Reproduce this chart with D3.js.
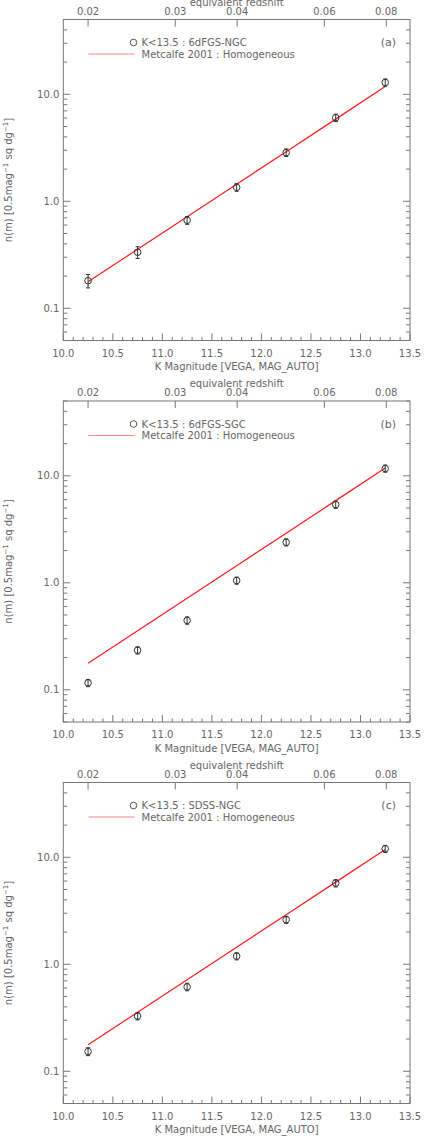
<!DOCTYPE html>
<html>
<head>
<meta charset="utf-8">
<script src="https://cdn.jsdelivr.net/npm/d3@7"></script>
<style>
  body { margin: 0; background: #fff; }
  svg text { font-family: "DejaVu Sans", sans-serif; font-size: 10px; fill: #666; }
</style>
</head>
<body>
<div id="chart"></div>
<script>
// K magnitude bin centres
const kMag = [10.25, 10.75, 11.25, 11.75, 12.25, 12.75, 13.25];

// number counts per panel
const ngcCounts = [0.181, 0.334, 0.664, 1.35, 2.85, 6.04, 12.9];
const ngcErr = [0.026, 0.042, 0.055, 0.11, 0.23, 0.48, 1.0];
const sgcCounts = [0.116, 0.234, 0.445, 1.05, 2.39, 5.38, 11.7];
const sgcErr = [0.009, 0.018, 0.035, 0.08, 0.18, 0.42, 0.9];
const sdssCounts = [0.153, 0.328, 0.615, 1.19, 2.61, 5.73, 12.0];
const sdssErr = [0.013, 0.026, 0.05, 0.09, 0.2, 0.45, 0.92];

// Metcalfe 2001 homogeneous model
const modelCounts = [0.177, 0.356, 0.718, 1.445, 2.91, 5.86, 11.8];

// axis ticks
const magTicks = [10.0, 10.5, 11.0, 11.5, 12.0, 12.5, 13.0, 13.5];
const zTicks = [0.02, 0.03, 0.04, 0.06, 0.08];
const yTicks = [0.1, 1.0, 10.0];

const panels = [
    { tag: '(a)', label: 'K<13.5 : 6dFGS-NGC', counts: ngcCounts, err: ngcErr },
    { tag: '(b)', label: 'K<13.5 : 6dFGS-SGC', counts: sgcCounts, err: sgcErr },
    { tag: '(c)', label: 'K<13.5 : SDSS-NGC', counts: sdssCounts, err: sdssErr }
];

const W = 429, H = 1144;
const left = 63.3, right = 410, boxH = 321, top0 = 19.5, step = 381.5;
const axisCol = '#777', ptCol = '#333';

const svg = d3.select('#chart').append('svg')
    .attr('width', W).attr('height', H);

const x = d3.scaleLinear().domain([10, 13.5]).range([left, right]);
// redshift axis: m = 10.25 + 5 log10(z / 0.02)
const z = d3.scaleLog().domain([0.02, 0.08]).range([x(10.25), x(10.25 + 5 * Math.log10(4))]);

panels.forEach((p, i) => {
    const top = top0 + i * step;
    const y = d3.scaleLog().domain([0.05, 50]).range([top + boxH, top]);
    const g = svg.append('g');

    // frame
    g.append('rect')
        .attr('x', left).attr('y', top)
        .attr('width', right - left).attr('height', boxH)
        .attr('fill', 'none').attr('stroke', axisCol).attr('stroke-width', 1);

    // bottom ticks (minor every 0.1)
    const minorX = d3.range(100, 136).map(v => v / 10);
    minorX.forEach(v => {
        const major = Math.abs(v * 2 - Math.round(v * 2)) < 1e-6;
        g.append('line')
            .attr('x1', x(v)).attr('x2', x(v))
            .attr('y1', top + boxH).attr('y2', top + boxH - (major ? 7 : 3.5))
            .attr('stroke', axisCol);
    });
    magTicks.forEach(v => {
        g.append('text')
            .attr('x', x(v)).attr('y', top + boxH + 16)
            .attr('text-anchor', 'middle')
            .text(v.toFixed(1));
    });
    g.append('text')
        .attr('x', (left + right) / 2).attr('y', top + boxH + 29.5)
        .attr('text-anchor', 'middle')
        .text('K Magnitude [VEGA, MAG_AUTO]');

    // top redshift axis
    zTicks.forEach(v => {
        g.append('line')
            .attr('x1', z(v)).attr('x2', z(v))
            .attr('y1', top).attr('y2', top + 7)
            .attr('stroke', axisCol);
        g.append('text')
            .attr('x', z(v)).attr('y', top - 5)
            .attr('text-anchor', 'middle')
            .text(v.toFixed(2));
    });
    g.append('text')
        .attr('x', (left + right) / 2).attr('y', top - 14)
        .attr('text-anchor', 'middle')
        .text('equivalent redshift');

    // left / right log ticks
    const yMinor = [];
    [0.01, 0.1, 1, 10].forEach(d => {
        for (let k = 1; k <= 9; k++) {
            const v = d * k;
            if (v >= 0.05 && v <= 50) yMinor.push(v);
        }
    });
    yMinor.forEach(v => {
        const major = yTicks.some(t => Math.abs(t - v) < 1e-9);
        const len = major ? 7 : 4;
        g.append('line')
            .attr('x1', left).attr('x2', left + len)
            .attr('y1', y(v)).attr('y2', y(v))
            .attr('stroke', axisCol);
        g.append('line')
            .attr('x1', right).attr('x2', right - len)
            .attr('y1', y(v)).attr('y2', y(v))
            .attr('stroke', axisCol);
    });
    yTicks.forEach(v => {
        g.append('text')
            .attr('x', left - 4).attr('y', y(v) + 3.5)
            .attr('text-anchor', 'end')
            .text(v.toFixed(1));
    });

    // y label
    const yl = g.append('text')
        .attr('transform', `translate(12, ${top + boxH / 2}) rotate(-90)`)
        .attr('text-anchor', 'middle');
    yl.append('tspan').text('n(m) [0.5mag');
    yl.append('tspan').attr('dy', -4).style('font-size', '7px').text('\u22121');
    yl.append('tspan').attr('dy', 4).text(' sq dg');
    yl.append('tspan').attr('dy', -4).style('font-size', '7px').text('\u22121');
    yl.append('tspan').attr('dy', 4).text(']');

    // model line
    const line = d3.line().x((d, j) => x(kMag[j])).y(d => y(d));
    g.append('path')
        .datum(modelCounts)
        .attr('d', line)
        .attr('fill', 'none')
        .attr('stroke', '#ff1a1a')
        .attr('stroke-width', 1.2);

    // data points with error bars
    const pts = g.selectAll('.pt')
        .data(p.counts.map((c, j) => ({ m: kMag[j], c, e: p.err[j] })))
        .enter().append('g').attr('class', 'pt');
    pts.append('line')
        .attr('x1', d => x(d.m)).attr('x2', d => x(d.m))
        .attr('y1', d => y(d.c - d.e)).attr('y2', d => y(d.c + d.e))
        .attr('stroke', ptCol).attr('stroke-width', 1);
    pts.append('line')
        .attr('x1', d => x(d.m) - 2).attr('x2', d => x(d.m) + 2)
        .attr('y1', d => y(d.c - d.e)).attr('y2', d => y(d.c - d.e))
        .attr('stroke', ptCol);
    pts.append('line')
        .attr('x1', d => x(d.m) - 2).attr('x2', d => x(d.m) + 2)
        .attr('y1', d => y(d.c + d.e)).attr('y2', d => y(d.c + d.e))
        .attr('stroke', ptCol);
    pts.append('circle')
        .attr('cx', d => x(d.m)).attr('cy', d => y(d.c))
        .attr('r', 3.3)
        .attr('fill', 'none').attr('stroke', ptCol).attr('stroke-width', 1);

    // legend
    g.append('circle')
        .attr('cx', 133.5).attr('cy', top + 23).attr('r', 3.3)
        .attr('fill', 'none').attr('stroke', '#555');
    g.append('text')
        .attr('x', 141.5).attr('y', top + 26.5)
        .text(p.label);
    g.append('line')
        .attr('x1', 88.5).attr('x2', 134.5)
        .attr('y1', top + 34.5).attr('y2', top + 34.5)
        .attr('stroke', '#ff8080').attr('stroke-width', 1);
    g.append('text')
        .attr('x', 141.5).attr('y', top + 38)
        .text('Metcalfe 2001 : Homogeneous');
    g.append('text')
        .attr('x', 396).attr('y', top + 26.5)
        .attr('text-anchor', 'end')
        .style('font-size', '11px')
        .text(p.tag);
});
</script>
</body>
</html>
